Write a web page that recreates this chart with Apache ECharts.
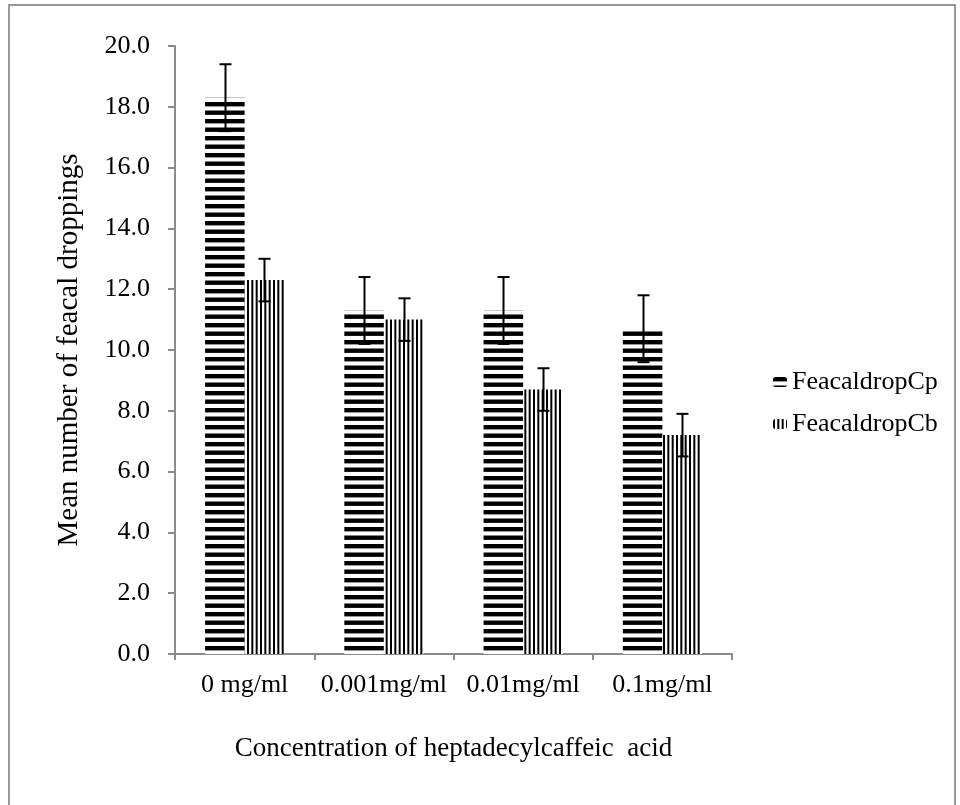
<!DOCTYPE html>
<html>
<head>
<meta charset="utf-8">
<script src="https://cdn.jsdelivr.net/npm/echarts@6/dist/echarts.min.js"></script>
<style>
  html, body { margin: 0; padding: 0; background: #fff; }
  #chart { width: 960px; height: 805px; }
</style>
</head>
<body>
<div id="chart"></div>
<script>
// Concentration groups and measured means with their error margins
const categories = ['0 mg/ml', '0.001mg/ml', '0.01mg/ml', '0.1mg/ml'];
const seriesNames = ['FeacaldropCp', 'FeacaldropCb'];
const cpMeans = [18.3, 11.3, 11.3, 10.7];
const cpErrors = [1.1, 1.1, 1.1, 1.1];
const cbMeans = [12.3, 11.0, 8.7, 7.2];
const cbErrors = [0.7, 0.7, 0.7, 0.7];

const FONT = '"Liberation Serif", "Times New Roman", serif';
const AXIS_GRAY = '#8a8a8a';

// Horizontal stripe fill (black bands on white)
function horizontalStripes() {
  const c = document.createElement('canvas');
  c.width = 4; c.height = 17;
  const g = c.getContext('2d');
  g.fillStyle = '#fff'; g.fillRect(0, 0, 4, 17);
  g.fillStyle = '#000';
  g.fillRect(0, 0, 4, 4.4);
  g.fillRect(0, 8.5, 4, 4.4);
  return c;
}
// Vertical stripe fill (narrow black lines)
function verticalStripes() {
  const c = document.createElement('canvas');
  c.width = 13; c.height = 4;
  const g = c.getContext('2d');
  g.fillStyle = '#fff'; g.fillRect(0, 0, 13, 4);
  g.fillStyle = '#000';
  g.fillRect(0, 0, 2, 4);
  g.fillRect(4.33, 0, 2, 4);
  g.fillRect(8.67, 0, 2, 4);
  return c;
}

const BAR_FRACTION = 0.284;

// Error bars: vertical whisker with caps, offset onto each bar of the pair
function errorBarSeries(means, errs, side) {
  return {
    type: 'custom',
    z: 10,
    silent: true,
    data: means.map((m, i) => [i, m - errs[i], m + errs[i]]),
    renderItem: function (params, api) {
      const band = api.size([1, 0])[0];
      const off = side * band * BAR_FRACTION / 2;
      const lo = api.coord([api.value(0), api.value(1)]);
      const hi = api.coord([api.value(0), api.value(2)]);
      const x = Math.round(lo[0] + off) + 0.5;
      const cap = 6;
      const st = { stroke: '#000', lineWidth: 2 };
      return {
        type: 'group',
        children: [
          { type: 'line', shape: { x1: x, y1: hi[1], x2: x, y2: lo[1] }, style: st },
          { type: 'line', shape: { x1: x - cap, y1: hi[1], x2: x + cap, y2: hi[1] }, style: st },
          { type: 'line', shape: { x1: x - cap, y1: lo[1], x2: x + cap, y2: lo[1] }, style: st }
        ]
      };
    }
  };
}

const chart = echarts.init(document.getElementById('chart'), null, { renderer: 'canvas' });

const hPattern = { image: horizontalStripes(), repeat: 'repeat' };
const vPattern = { image: verticalStripes(), repeat: 'repeat' };

chart.setOption({
  animation: false,
  backgroundColor: '#fff',
  graphic: [{
    type: 'rect',
    shape: { x: 9, y: 5, width: 946, height: 900 },
    style: { fill: 'none', stroke: '#999', lineWidth: 2 },
    silent: true
  }],
  grid: { left: 175, right: 228, top: 46, bottom: 151 },
  legend: {
    orient: 'vertical',
    left: 773,
    top: 369,
    padding: 0,
    itemWidth: 14,
    itemHeight: 10,
    itemGap: 16,
    data: seriesNames,
    textStyle: { fontFamily: FONT, fontSize: 26, color: '#000' }
  },
  xAxis: {
    type: 'category',
    data: categories,
    name: 'Concentration of heptadecylcaffeic  acid',
    nameLocation: 'middle',
    nameGap: 81,
    nameTextStyle: { fontFamily: FONT, fontSize: 27, color: '#000' },
    axisLine: { lineStyle: { color: AXIS_GRAY, width: 2 } },
    axisTick: { show: true, length: 6, lineStyle: { color: AXIS_GRAY, width: 2 } },
    axisLabel: { fontFamily: FONT, fontSize: 26, color: '#000', margin: 18, interval: 0 }
  },
  yAxis: {
    type: 'value',
    min: 0,
    max: 20,
    interval: 2,
    name: 'Mean number of feacal droppings',
    nameLocation: 'middle',
    nameRotate: 90,
    nameGap: 91,
    nameTextStyle: { fontFamily: FONT, fontSize: 29, color: '#000' },
    axisLine: { show: true, lineStyle: { color: AXIS_GRAY, width: 2 } },
    axisTick: { show: true, length: 7, lineStyle: { color: AXIS_GRAY, width: 2 } },
    splitLine: { show: false },
    axisLabel: {
      fontFamily: FONT, fontSize: 26, color: '#000', margin: 25,
      formatter: v => v.toFixed(1)
    }
  },
  series: [
    {
      name: seriesNames[0],
      type: 'bar',
      data: cpMeans,
      barWidth: (BAR_FRACTION * 100) + '%',
      barGap: '0%',
      itemStyle: { color: hPattern }
    },
    {
      name: seriesNames[1],
      type: 'bar',
      data: cbMeans,
      barWidth: (BAR_FRACTION * 100) + '%',
      barGap: '0%',
      itemStyle: { color: vPattern }
    },
    errorBarSeries(cpMeans, cpErrors, -1),
    errorBarSeries(cbMeans, cbErrors, 1)
  ]
});
</script>
</body>
</html>
